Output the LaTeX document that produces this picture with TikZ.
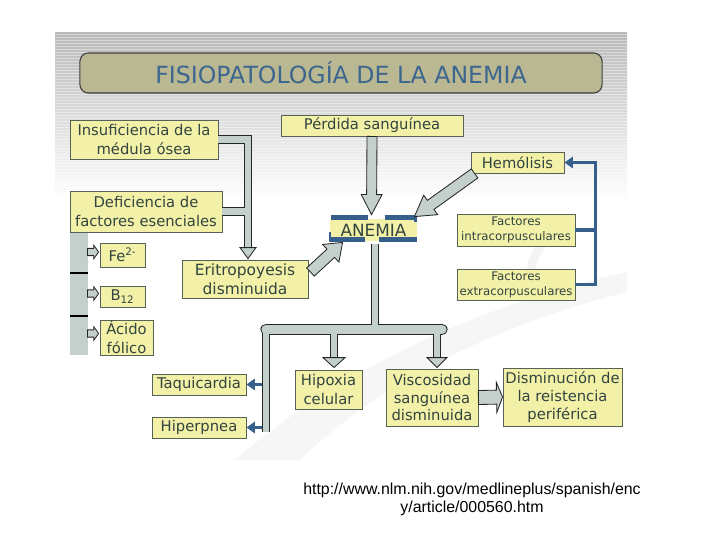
\documentclass[tikz,border=0pt]{standalone}
\usepackage{fontspec}
\setmainfont{DejaVu Sans}
\newfontfamily\urlfont{Liberation Sans}
\usetikzlibrary{calc,arrows.meta}

\definecolor{amarillo}{RGB}{243,241,168}
\definecolor{borde}{RGB}{85,98,85}
\definecolor{letra}{RGB}{50,68,64}
\definecolor{tubogris}{RGB}{196,208,203}
\definecolor{azul}{RGB}{55,95,140}
\definecolor{caqui}{RGB}{186,184,146}
\definecolor{titazul}{RGB}{60,102,142}

\newcommand{\bloque}[5]{
  \coordinate (b0) at (#1);
  \coordinate (b1) at (#2);
  \coordinate (bh) at ($(b1)!#5!(b0)$);
  \filldraw[flecha] ($(b0)!#3!90:(b1)$) -- ($(bh)!#3!90:(b1)$) -- ($(bh)!#4!90:(b1)$)
    -- (b1) -- ($(bh)!#4!-90:(b1)$) -- ($(bh)!#3!-90:(b1)$) -- ($(b0)!#3!-90:(b1)$) -- cycle;
}

\begin{document}
\begin{tikzpicture}[x=0.025cm,y=-0.025cm,
  caja/.style={draw=borde,fill=amarillo,line width=0.6pt,inner sep=0pt,align=center,text=letra,font=\fontsize{10.5}{13.5}\selectfont},
  chica/.style={caja,font=\fontsize{8.4}{10.6}\selectfont},
  flecha/.style={fill=tubogris,draw=black!85,line width=0.6pt},
  tuboext/.style={draw=black!85,line width=6.2pt},
  tuboint/.style={draw=tubogris,line width=4.8pt},
  bandaext/.style={draw=black!85,line width=8pt,line cap=round},
  bandaint/.style={draw=tubogris,line width=6.6pt,line cap=round},
  azulflecha/.style={draw=azul,line width=2.6pt,-{Triangle[length=6pt,width=8pt]}}]
\useasboundingbox (0,0) rectangle (720,540);
\fill[white] (0,0) rectangle (720,540);
\shade[top color=gray!55,middle color=gray!30,bottom color=white] (55,32) rectangle (627,200);
\foreach \y in {34,37,...,196}
  \draw[white,line width=0.7pt,opacity=0.4] (55,\y) -- (627,\y);
\fill[gray!7] (235,460) .. controls (350,360) and (500,300) .. (627,272) -- (627,292)
  .. controls (520,318) and (390,372) .. (300,460) -- cycle;
\draw[gray!9,line width=6pt] (545,300) .. controls (520,280) and (530,245) .. (565,225);

\node (titulo) at (341,73) [draw=black!75,fill=caqui,line width=0.8pt,rounded corners=6pt,
  minimum width=13.05cm,minimum height=1cm,text=titazul,font=\fontsize{16.8}{20}\selectfont]
  {FISIOPATOLOGÍA DE LA ANEMIA};

\node (insuf) at (144,139.5) [caja,minimum width=3.7cm,minimum height=0.975cm] {Insuficiencia de la\\médula ósea};
\node (perdida) at (372,125.5) [caja,minimum width=4.55cm,minimum height=0.525cm] {Pérdida sanguínea};
\node (hemo) at (517.5,162.5) [caja,minimum width=2.325cm,minimum height=0.525cm] {Hemólisis};
\node (defic) at (146,211.5) [caja,minimum width=3.8cm,minimum height=1.025cm] {Deficiencia de\\factores esenciales};
\node (anemia) at (373.5,230) [caja,draw=none,minimum width=2.175cm,minimum height=0.55cm,font=\fontsize{12}{14}\selectfont] {ANEMIA};
\node (fintra) at (516,230) [chica,minimum width=2.95cm,minimum height=0.8cm] {Factores\\intracorpusculares};
\node (fextra) at (516,284.5) [chica,minimum width=2.95cm,minimum height=0.775cm] {Factores\\extracorpusculares};
\node (eritro) at (245,279) [caja,minimum width=3.15cm,minimum height=0.95cm,font=\fontsize{11}{13.5}\selectfont] {Eritropoyesis\\disminuida};
\node (fe) at (122.5,255) [caja,minimum width=1.125cm,minimum height=0.6cm] {Fe\textsuperscript{2-}};
\node (bdoce) at (122.5,296.5) [caja,minimum width=1.125cm,minimum height=0.525cm] {B\textsubscript{12}};
\node (acido) at (126.5,337.5) [caja,minimum width=1.325cm,minimum height=0.875cm] {Ácido\\fólico};
\node (taqui) at (199,384.5) [caja,minimum width=2.35cm,minimum height=0.525cm] {Taquicardia};
\node (hiper) at (199,427.5) [caja,minimum width=2.35cm,minimum height=0.525cm] {Hiperpnea};
\node (hipoxia) at (328.5,389.5) [caja,minimum width=1.675cm,minimum height=0.975cm] {Hipoxia\\celular};
\node (visco) at (432,397.5) [caja,minimum width=2.3cm,minimum height=1.425cm,font=\fontsize{10.5}{12.6}\selectfont] {Viscosidad\\sanguínea\\disminuida};
\node (dismi) at (562.5,397) [caja,minimum width=2.975cm,minimum height=1.45cm,font=\fontsize{10.5}{13}\selectfont] {Disminución de\\la reistencia\\periférica};

\draw[azul,line width=3pt] ($(anemia.north west)+(1,-1)$) -- ++(37,0) ($(anemia.north west)+(55,-1)$) -- ($(anemia.north east)+(0,-1)$);
\draw[azul,line width=3pt] ($(anemia.south west)+(-1,-2)$) -- ++(36,0) ($(anemia.south west)+(49,-2)$) -- ($(anemia.south east)+(0,-2)$);
\fill[azul] ($(anemia.south west)+(-1,-2)$) rectangle ++(2,-7);
\fill[azul] ($(anemia.north east)+(-3,-3)$) rectangle ++(3,6);

\fill[tubogris] (70,233) rectangle (88,355);
\draw[black,line width=1.4pt] (70,273) -- (88,273) (70,316) -- (88,316);
\bloque{$(fe.west)+(-12,-3)$}{$(fe.west)+(-1,-3)$}{0.09cm}{0.17cm}{0.12cm}
\bloque{$(bdoce.west)+(-12,-3)$}{$(bdoce.west)+(-1,-3)$}{0.09cm}{0.17cm}{0.12cm}
\bloque{$(acido.west)+(-12,-4)$}{$(acido.west)+(-1,-4)$}{0.09cm}{0.17cm}{0.12cm}

\coordinate (codo) at ($(eritro.north)+(3,-12)$);
\draw[tuboext] (insuf.east) -| (codo);
\draw[tuboext] (defic.east) -- (defic.east -| codo);
\draw[tuboint] (insuf.east) -| (codo);
\draw[tuboint] (defic.east) -- (defic.east -| codo);
\filldraw[flecha] ($(codo)+(-8,0)$) -- ($(codo)+(8,0)$) -- ($(codo)+(0,11)$) -- cycle;

\bloque{perdida.south}{$(anemia.north)+(-2,-4)$}{0.125cm}{0.26cm}{0.5cm}
\bloque{$(hemo.south west)+(4,0)$}{$(anemia.north east)+(-3,-2)$}{0.14cm}{0.3cm}{0.5cm}
\bloque{$(eritro.east)+(2,-7)$}{$(anemia.south west)+(13,1)$}{0.14cm}{0.3cm}{0.4cm}
\bloque{visco.east}{dismi.west}{0.175cm}{0.375cm}{0.15cm}

\coordinate (salida) at ($(anemia.south)+(1.5,3)$);
\coordinate (banda) at ($(salida)+(0,85)$);
\coordinate (izq) at ($(banda)+(-109,0)$);
\coordinate (der) at ($(banda)+(67,0)$);
\coordinate (phip) at ($(hipoxia.north)+(5.5,-12)$);
\coordinate (pvis) at ($(visco.north)+(5,-11)$);
\draw[bandaext] (izq) -- (der);
\draw[tuboext] (salida) -- (banda);
\draw[tuboext] (izq) -- ($(hiper.east -| izq)+(0,4)$);
\draw[tuboext] (banda -| phip) -- (phip);
\draw[tuboext] (banda -| pvis) -- (pvis);
\draw[bandaint] (izq) -- (der);
\draw[tuboint] (salida) -- (banda);
\draw[tuboint] (izq) -- ($(hiper.east -| izq)+(0,4)$);
\draw[tuboint] (banda -| phip) -- (phip);
\draw[tuboint] (banda -| pvis) -- (pvis);
\filldraw[flecha] ($(phip)+(-11,0)$) -- ($(phip)+(11,0)$) -- ($(phip)+(0,10)$) -- cycle;
\filldraw[flecha] ($(pvis)+(-10,0)$) -- ($(pvis)+(10,0)$) -- ($(pvis)+(0,10)$) -- cycle;

\draw[azulflecha] ($(taqui.east -| izq)+(-4,0)$) -- (taqui.east);
\draw[azulflecha] ($(hiper.east -| izq)+(-4,0)$) -- (hiper.east);

\coordinate (ret) at ($(hemo.east)+(31,0)$);
\draw[azulflecha] (fextra.east) -| (ret) -- (hemo.east);
\draw[azul,line width=2.6pt] (fintra.east) -- (fintra.east -| ret);

\node (url) at (472,499) [align=center,font=\urlfont\fontsize{11.3}{12.8}\selectfont]
  {http://www.nlm.nih.gov/medlineplus/spanish/enc\\y/article/000560.htm};
\end{tikzpicture}
\end{document}
